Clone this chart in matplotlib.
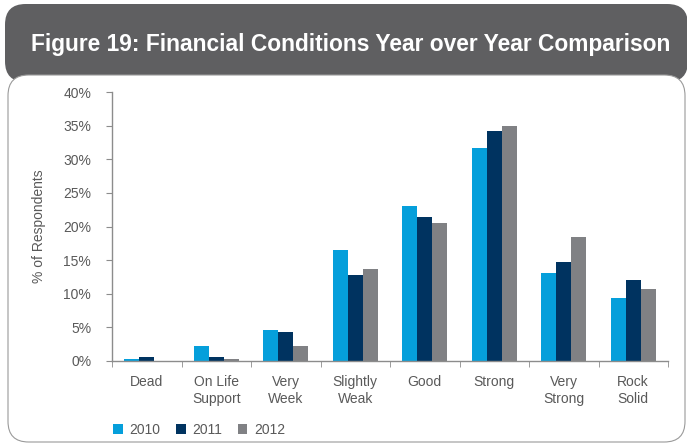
"""Financial conditions year over year: grouped bar chart"""
import matplotlib.pyplot as plt
import numpy as np
from matplotlib.patches import FancyBboxPatch
from matplotlib.ticker import FuncFormatter

categories = ["Dead", "On Life\nSupport", "Very\nWeek", "Slightly\nWeak",
              "Good", "Strong", "Very\nStrong", "Rock\nSolid"]
years = ["2010", "2011", "2012"]
pct_2010 = [0.3, 2.2, 4.6, 16.5, 23.0, 31.7, 13.1, 9.4]
pct_2011 = [0.6, 0.6, 4.3, 12.8, 21.4, 34.2, 14.7, 12.1]
pct_2012 = [0.0, 0.3, 2.2, 13.7, 20.5, 35.0, 18.4, 10.7]

colors = ["#059fdb", "#003360", "#808184"]
text_color = "#595959"
axis_color = "#8c8c8c"

W, H = 687, 445
fig = plt.figure(figsize=(W / 100, H / 100), dpi=100)
plt.rcParams["font.family"] = ["Liberation Sans", "DejaVu Sans"]


def fx(px):
    return px / W


def fy(py):
    return 1 - py / H


# dark header and the white panel sitting over it
header = FancyBboxPatch((fx(5), fy(82)), fx(688) - fx(5), fy(4) - fy(82),
                        boxstyle="round,pad=0,rounding_size=0.03",
                        transform=fig.transFigure, facecolor="#5f5f61",
                        edgecolor="none", zorder=0, mutation_aspect=W / H)
panel = FancyBboxPatch((fx(8), fy(442)), fx(685) - fx(8), fy(75) - fy(442),
                       boxstyle="round,pad=0,rounding_size=0.03",
                       transform=fig.transFigure, facecolor="white",
                       edgecolor="#9a9a9a", linewidth=0.8, zorder=1,
                       mutation_aspect=W / H)
fig.patches.extend([header, panel])

fig.text(fx(351), fy(45), "Figure 19: Financial Conditions Year over Year Comparison",
         ha="center", va="center", color="white", fontsize=16.4,
         fontweight="bold", zorder=3)

ax = fig.add_axes([fx(112), fy(361), fx(668) - fx(112), fy(92) - fy(361)])
ax.set_zorder(2)
ax.patch.set_alpha(0)

x = np.arange(len(categories))
width = 0.217
for i, (year, vals) in enumerate(zip(years, [pct_2010, pct_2011, pct_2012])):
    ax.bar(x + (i - 1) * width, vals, width, color=colors[i], label=year)

ax.set_xlim(-0.5, len(categories) - 0.5)
ax.set_ylim(0, 40)
ax.set_yticks(np.arange(0, 41, 5))
ax.yaxis.set_major_formatter(FuncFormatter(lambda v, _: f"{v:.0f}%"))
ax.set_xticks(x)
ax.set_xticklabels(categories, linespacing=1.3, va="top")
ax.set_xticks(np.arange(-0.5, len(categories)), minor=True)
ax.tick_params(axis="x", which="major", length=0, pad=10,
               labelsize=10, labelcolor=text_color)
ax.tick_params(axis="x", which="minor", length=4, color=axis_color, direction="out")
ax.tick_params(axis="y", length=4, color=axis_color, pad=11,
               labelsize=10, labelcolor=text_color)

for side in ["top", "right"]:
    ax.spines[side].set_visible(False)
for side in ["left", "bottom"]:
    ax.spines[side].set_color(axis_color)
    ax.spines[side].set_linewidth(1.0)

ax.set_ylabel("% of Respondents", color=text_color, fontsize=10, labelpad=12)

ax.legend(loc="center left", bbox_to_anchor=(fx(113), fy(430)),
          bbox_transform=fig.transFigure, ncol=3, frameon=False,
          fontsize=10, labelcolor=text_color, handlelength=0.7,
          handleheight=0.7, handletextpad=0.5, columnspacing=1.1,
          borderaxespad=0, borderpad=0)

fig.savefig("out.png", dpi=100)
